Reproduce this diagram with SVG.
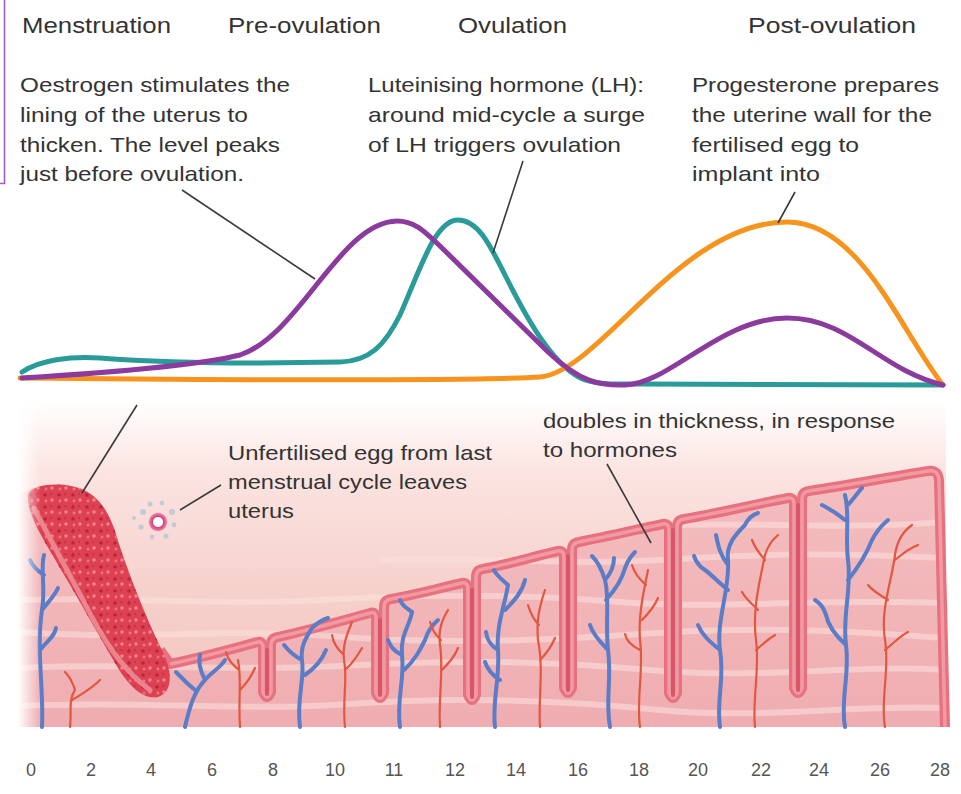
<svg xmlns="http://www.w3.org/2000/svg" width="961" height="794" viewBox="0 0 961 794">
  <defs>
    <style>
      .txt { font-family: "Liberation Sans", Arial, sans-serif; fill: #333; }
      .hdr { font-size: 22px; }
      .note { font-size: 21px; }
      .axis { font-size: 18px; fill: #555; text-anchor: middle; }
      .curve { fill: none; stroke-width: 5; stroke-linecap: round; stroke-linejoin: round; }
      .leader { fill: none; stroke: #3a3a3a; stroke-width: 1.6; }
      .vein { fill: none; stroke: #5b7cc6; stroke-width: 4; stroke-linecap: round; }
      .artery { fill: none; stroke: #e2573f; stroke-width: 2.2; stroke-linecap: round; }
      .streak { fill: none; stroke: #fbe1df; stroke-width: 6; opacity: 0.55; }
    </style>
    <linearGradient id="cavity" x1="0" y1="400" x2="0" y2="727" gradientUnits="userSpaceOnUse">
      <stop offset="0" stop-color="#ffffff"/>
      <stop offset="0.22" stop-color="#fbe4e1"/>
      <stop offset="0.6" stop-color="#f6d0cb"/>
      <stop offset="1" stop-color="#f3c2be"/>
    </linearGradient>
    <linearGradient id="tissue" x1="0" y1="470" x2="0" y2="727" gradientUnits="userSpaceOnUse">
      <stop offset="0" stop-color="#f4bec0"/>
      <stop offset="1" stop-color="#efadb1"/>
    </linearGradient>
    <linearGradient id="edgeL" x1="18" y1="0" x2="40" y2="0" gradientUnits="userSpaceOnUse">
      <stop offset="0" stop-color="#fff" stop-opacity="1"/>
      <stop offset="1" stop-color="#fff" stop-opacity="0"/>
    </linearGradient>
    <pattern id="clots" width="14" height="12" patternUnits="userSpaceOnUse">
      <circle cx="3" cy="3" r="1.8" fill="#b3283c"/>
      <circle cx="10" cy="8" r="1.7" fill="#f28690"/>
      <circle cx="9" cy="2" r="1.2" fill="#c8344a"/>
      <circle cx="4" cy="9" r="1.4" fill="#ee7582"/>
    </pattern>
    <radialGradient id="eggGlow">
      <stop offset="0" stop-color="#ffffff"/>
      <stop offset="0.45" stop-color="#ffffff"/>
      <stop offset="0.55" stop-color="#d8437c"/>
      <stop offset="0.85" stop-color="#e57aa3"/>
      <stop offset="1" stop-color="#f5c7d3" stop-opacity="0"/>
    </radialGradient>
  </defs>

  <rect width="961" height="794" fill="#ffffff"/>

  <!-- frame tick at the left edge -->
  <path d="M4.5,0 V183.5 H0" fill="none" stroke="#a35bc9" stroke-width="1.6"/>

  <!-- phase headers -->
  <g id="phases" class="txt hdr">
    <text x="22" y="33" textLength="149" lengthAdjust="spacingAndGlyphs">Menstruation</text>
    <text x="228" y="33" textLength="153" lengthAdjust="spacingAndGlyphs">Pre-ovulation</text>
    <text x="458" y="33" textLength="109" lengthAdjust="spacingAndGlyphs">Ovulation</text>
    <text x="748" y="33" textLength="168" lengthAdjust="spacingAndGlyphs">Post-ovulation</text>
  </g>

  <!-- hormone notes -->
  <g id="note-oestrogen" class="txt note">
    <text x="20" y="92" textLength="270" lengthAdjust="spacingAndGlyphs">Oestrogen stimulates the</text>
    <text x="20" y="122" textLength="228" lengthAdjust="spacingAndGlyphs">lining of the uterus to</text>
    <text x="20" y="152" textLength="260" lengthAdjust="spacingAndGlyphs">thicken. The level peaks</text>
    <text x="20" y="181" textLength="224" lengthAdjust="spacingAndGlyphs">just before ovulation.</text>
  </g>
  <g id="note-lh" class="txt note">
    <text x="368" y="92" textLength="276" lengthAdjust="spacingAndGlyphs">Luteinising hormone (LH):</text>
    <text x="368" y="122" textLength="277" lengthAdjust="spacingAndGlyphs">around mid-cycle a surge</text>
    <text x="368" y="152" textLength="253" lengthAdjust="spacingAndGlyphs">of LH triggers ovulation</text>
  </g>
  <g id="note-progesterone" class="txt note">
    <text x="692" y="92" textLength="247" lengthAdjust="spacingAndGlyphs">Progesterone prepares</text>
    <text x="692" y="122" textLength="240" lengthAdjust="spacingAndGlyphs">the uterine wall for the</text>
    <text x="692" y="152" textLength="167" lengthAdjust="spacingAndGlyphs">fertilised egg to</text>
    <text x="692" y="181" textLength="128" lengthAdjust="spacingAndGlyphs">implant into</text>
  </g>

  <!-- hormone level curves -->
  <g id="curve-lh">
    <path class="curve" stroke="#2a9b98" d="M22,372 C40,360 70,356 100,358 C140,361 200,363 260,363 L340,362 C370,361 385,345 400,315 C420,270 435,220 458,220 C478,220 490,245 505,275 C530,325 555,368 585,380 C600,385 620,384 640,384 L943,385"/>
  </g>
  <g id="curve-progesterone">
    <path class="curve" stroke="#f7941e" d="M20,378 C200,380 480,381 540,377 C600,372 680,222 787,222 C860,222 900,330 943,385"/>
  </g>
  <g id="curve-oestrogen">
    <path class="curve" stroke="#8b3b9e" d="M22,378 C120,372 200,365 240,355 C300,335 340,222 397,221 C415,221 425,232 440,246 L548,352 C580,382 600,386 625,385 C670,384 720,318 787,318 C850,318 880,370 943,385"/>
  </g>

  <!-- uterine lining illustration -->
  <g id="endometrium">
    <rect x="18" y="400" width="928" height="327" fill="url(#cavity)"/>
    <path fill="url(#tissue)" d="M18,727 L18,505 C20,492 28,488 36,488 L85,492 L112,530 L160,650 L170,664 C200,658 235,648 258,642 Q263,641 263,648 L263,692 Q267,702 271,692 L271,645 Q271,638 278,637 C310,630 345,620 370,613 Q376,611 376,618 L376,693 Q380,703 384,693 L384,607 Q384,600 391,599 C415,595 440,588 462,583 Q468,582 468,589 L468,695 Q472,705 476,695 L476,577 Q476,570 483,569 C510,564 535,556 558,551 Q564,550 564,557 L564,688 Q568,698 572,688 L572,550 Q572,543 579,542 C605,537 635,530 663,524 Q669,523 669,530 L669,693 Q673,703 677,693 L677,527 Q677,520 684,519 C720,513 760,503 788,498 Q794,497 794,504 L794,688 Q798,698 802,688 L802,499 Q802,492 809,491 C850,485 895,476 928,471 Q938,469 939,480 L945,727 Z"/>
    <!-- stromal streaks -->
    <g>
      <path class="streak" d="M20,600 C120,596 220,606 320,600 S520,594 620,602 S820,598 944,603"/>
      <path class="streak" d="M20,632 C130,640 230,628 330,636 S530,642 640,634 S840,630 944,638"/>
      <path class="streak" d="M20,668 C110,662 230,672 340,666 S540,660 650,670 S850,664 944,670"/>
      <path class="streak" d="M20,706 C140,700 240,712 350,704 S560,700 660,710 S860,704 944,708"/>
      <path class="streak" d="M380,560 C480,556 560,566 660,560 S830,552 944,558"/>
      <path class="streak" d="M680,525 C760,522 840,530 944,522"/>
    </g>
    <!-- lining surface with crypts -->
    <path fill="none" stroke="#e7717f" stroke-width="10" stroke-linejoin="round" d="M160,650 L170,664 C200,658 235,648 258,642 Q263,641 263,648 L263,692 Q267,702 271,692 L271,645 Q271,638 278,637 C310,630 345,620 370,613 Q376,611 376,618 L376,693 Q380,703 384,693 L384,607 Q384,600 391,599 C415,595 440,588 462,583 Q468,582 468,589 L468,695 Q472,705 476,695 L476,577 Q476,570 483,569 C510,564 535,556 558,551 Q564,550 564,557 L564,688 Q568,698 572,688 L572,550 Q572,543 579,542 C605,537 635,530 663,524 Q669,523 669,530 L669,693 Q673,703 677,693 L677,527 Q677,520 684,519 C720,513 760,503 788,498 Q794,497 794,504 L794,688 Q798,698 802,688 L802,499 Q802,492 809,491 C850,485 895,476 928,471 Q938,469 939,480 L945,727"/>
    <path fill="none" stroke="#f19aa2" stroke-width="3.5" stroke-linejoin="round" d="M170,664 C200,658 235,648 258,642 Q263,641 263,648 L263,692 Q267,702 271,692 L271,645 Q271,638 278,637 C310,630 345,620 370,613 Q376,611 376,618 L376,693 Q380,703 384,693 L384,607 Q384,600 391,599 C415,595 440,588 462,583 Q468,582 468,589 L468,695 Q472,705 476,695 L476,577 Q476,570 483,569 C510,564 535,556 558,551 Q564,550 564,557 L564,688 Q568,698 572,688 L572,550 Q572,543 579,542 C605,537 635,530 663,524 Q669,523 669,530 L669,693 Q673,703 677,693 L677,527 Q677,520 684,519 C720,513 760,503 788,498 Q794,497 794,504 L794,688 Q798,698 802,688 L802,499 Q802,492 809,491 C850,485 895,476 928,471 Q938,469 939,480 L945,727"/>
    <!-- crypt cores -->
    <g stroke="#d8566a" stroke-width="4" stroke-linecap="round" fill="none">
      <path d="M267,650 V694"/>
      <path d="M380,620 V695"/>
      <path d="M472,590 V697"/>
      <path d="M568,556 V690"/>
      <path d="M673,530 V695"/>
      <path d="M798,505 V690"/>
    </g>

    <!-- blood vessels -->
    <g class="vein">
      <path d="M42,727 C44,690 36,650 42,610 C46,585 40,570 44,555 M42,610 C50,600 55,595 58,588 M44,575 C36,570 32,565 30,560 M40,650 C48,640 55,636 56,628"/>
      <path d="M185,727 C190,705 195,690 205,680 M205,680 C212,672 220,668 225,660 M195,690 C185,682 180,676 176,672 M205,680 C200,670 198,662 200,655"/>
      <path d="M300,727 C296,700 305,680 302,660 C300,645 308,635 312,628 M302,660 C292,655 288,650 284,645 M305,675 C315,668 322,660 326,650 M312,628 C318,622 322,620 328,618"/>
      <path d="M400,727 C396,700 405,680 402,655 C400,635 410,625 412,612 M402,655 C392,650 390,645 388,640 M404,670 C415,660 420,650 425,640 C428,630 432,625 438,620 M412,612 C405,607 402,605 400,600"/>
      <path d="M495,727 C492,700 500,680 498,650 C496,625 505,605 508,585 M498,650 C490,645 487,640 486,632 M500,680 C490,674 487,668 485,662 M508,585 C500,578 496,575 494,570 M505,610 C515,600 522,592 525,580"/>
      <path d="M610,727 C605,700 612,680 608,650 C605,620 610,600 605,580 C602,570 598,562 592,556 M608,650 C598,640 592,632 590,625 M606,600 C615,590 622,580 625,568 C628,560 632,555 635,552 M605,580 C612,572 614,566 614,558"/>
      <path d="M720,727 C716,700 725,680 720,650 C716,620 730,590 728,560 C726,545 735,535 745,525 M720,650 C710,642 702,635 698,625 M728,590 C718,582 712,575 705,570 C700,567 696,562 694,556 M728,565 C720,555 718,545 716,535 M745,525 C748,518 752,515 758,513"/>
      <path d="M845,727 C840,700 850,675 846,645 C842,615 852,590 848,560 C845,535 850,515 845,495 M846,645 C835,635 828,625 826,615 C824,608 820,603 815,600 M848,580 C860,565 868,550 872,540 C876,532 882,525 888,520 M845,520 C835,512 828,508 822,505 M848,505 C855,497 858,492 862,488"/>
    </g>
    <g class="artery">
      <path d="M70,727 C72,710 68,700 75,690 M72,700 C80,695 90,690 100,680 M75,690 C72,680 68,675 65,672"/>
      <path d="M240,727 C238,700 242,680 238,660 M240,690 C248,682 252,675 255,668 M239,670 C232,664 228,660 226,652"/>
      <path d="M345,727 C342,700 348,680 344,660 C342,645 348,632 352,622 M345,670 C354,662 358,655 362,648 M344,655 C336,648 333,642 332,635"/>
      <path d="M440,727 C438,700 444,670 440,645 C438,630 442,620 448,610 M442,670 C450,662 455,656 458,648 M441,640 C434,634 432,628 430,622"/>
      <path d="M540,727 C538,700 544,670 538,640 C536,620 540,605 545,590 M540,660 C548,652 552,645 555,638 M539,625 C532,618 530,612 528,605"/>
      <path d="M640,727 C636,700 644,670 640,640 C638,615 644,590 648,570 M640,650 C630,645 626,640 625,634 M642,620 C650,612 655,605 658,598 M646,585 C638,578 634,572 632,565"/>
      <path d="M755,727 C752,700 760,670 756,640 C752,610 760,580 765,555 C768,545 772,540 778,535 M756,650 C765,642 770,638 775,635 M758,610 C750,602 745,598 742,592 M765,560 C758,552 755,548 752,540"/>
      <path d="M885,727 C880,700 890,670 885,640 C880,610 892,580 895,555 C897,540 905,530 912,525 M885,650 C895,642 900,636 908,632 M888,600 C878,594 872,590 868,585 M895,560 C905,552 910,548 918,545"/>
    </g>

    <!-- shedding lining -->
    <path fill="#de4152" d="M28,494 C34,482 68,482 84,490 C100,498 108,512 114,528 C126,568 146,618 162,650 C172,670 174,692 158,697 C142,700 128,684 118,668 C98,634 78,598 60,568 C44,540 26,514 28,494 Z"/>
    <path fill="url(#clots)" d="M28,494 C34,482 68,482 84,490 C100,498 108,512 114,528 C126,568 146,618 162,650 C172,670 174,692 158,697 C142,700 128,684 118,668 C98,634 78,598 60,568 C44,540 26,514 28,494 Z"/>
    <path fill="none" stroke="#ec848e" stroke-width="5" stroke-linecap="round" d="M34,508 C48,535 66,568 82,598 C102,638 122,670 150,690"/>

    <rect x="18" y="400" width="22" height="327" fill="url(#edgeL)"/>

    <!-- released egg -->
    <g id="egg">
      <g fill="#b9c4da" opacity="0.8">
        <circle cx="143" cy="512" r="3"/>
        <circle cx="150" cy="504" r="2.6"/>
        <circle cx="162" cy="503" r="2.4"/>
        <circle cx="172" cy="512" r="3"/>
        <circle cx="174" cy="525" r="2.4"/>
        <circle cx="166" cy="536" r="2.6"/>
        <circle cx="152" cy="537" r="2.4"/>
        <circle cx="141" cy="527" r="2.6"/>
        <circle cx="134" cy="518" r="2"/>
      </g>
      <circle cx="158" cy="522" r="10" fill="url(#eggGlow)"/>
    </g>
  </g>

  <!-- lower notes -->
  <g id="note-egg" class="txt note">
    <text x="228" y="460" textLength="264" lengthAdjust="spacingAndGlyphs">Unfertilised egg from last</text>
    <text x="228" y="489" textLength="239" lengthAdjust="spacingAndGlyphs">menstrual cycle leaves</text>
    <text x="228" y="518" textLength="66" lengthAdjust="spacingAndGlyphs">uterus</text>
  </g>
  <g id="note-lining" class="txt note">
    <text x="543" y="428" textLength="352" lengthAdjust="spacingAndGlyphs">doubles in thickness, in response</text>
    <text x="543" y="457" textLength="134" lengthAdjust="spacingAndGlyphs">to hormones</text>
  </g>

  <!-- leader lines -->
  <g id="connectors" class="leader">
    <path d="M182,190 L315,279"/>
    <path d="M523,161 L493,253"/>
    <path d="M795,192 L778,223"/>
    <path d="M137,405 L82,493"/>
    <path d="M221,485 L180,510"/>
    <path d="M607,464 L651,543"/>
  </g>

  <!-- day axis -->
  <g id="axis" class="txt axis">
    <text x="31" y="776">0</text>
    <text x="91" y="776">2</text>
    <text x="151" y="776">4</text>
    <text x="212" y="776">6</text>
    <text x="273" y="776">8</text>
    <text x="335" y="776">10</text>
    <text x="394" y="776">11</text>
    <text x="455" y="776">12</text>
    <text x="516" y="776">14</text>
    <text x="578" y="776">16</text>
    <text x="639" y="776">18</text>
    <text x="698" y="776">20</text>
    <text x="761" y="776">22</text>
    <text x="819" y="776">24</text>
    <text x="880" y="776">26</text>
    <text x="940" y="776">28</text>
  </g>
</svg>
